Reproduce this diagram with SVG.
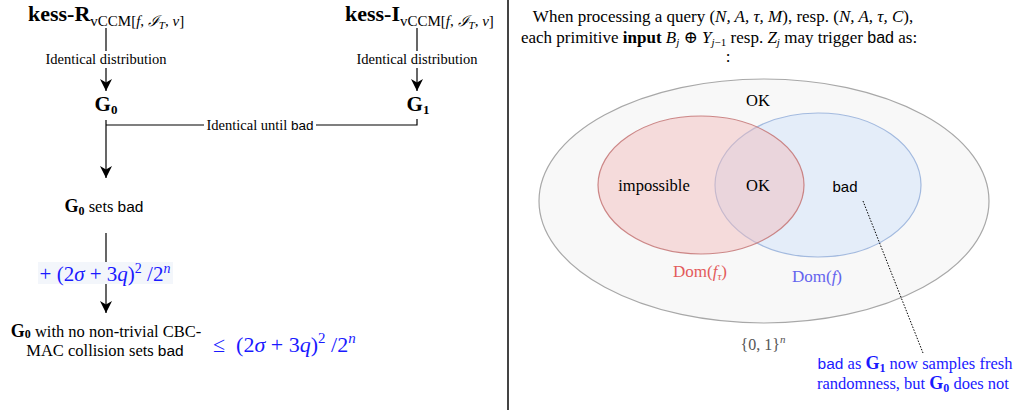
<svg xmlns="http://www.w3.org/2000/svg" width="1017" height="410" viewBox="0 0 1017 410">
<style>
.t{font-family:"Liberation Serif","DejaVu Serif",serif;fill:#000}
.s{font-family:"Liberation Sans","DejaVu Sans",sans-serif}
.i{font-style:italic}
.b{font-weight:bold}
.lbl{font-size:14.5px}
.ln{stroke:#000;stroke-width:1.2;fill:none}
.blue{fill:#1a1aff}
</style>
<defs>
<marker id="arr" markerUnits="userSpaceOnUse" markerWidth="13" markerHeight="13" refX="12" refY="6.5" orient="auto">
<path d="M0,0.5 L12,6.5 L0,12.5 L3.5,6.5 Z" fill="#000"/>
</marker>
</defs>
<rect width="1017" height="410" fill="#fff"/>

<g id="connectors">
<path class="ln" d="M106,28 V51"/>
<path class="ln" d="M106,68 V91" marker-end="url(#arr)"/>
<path class="ln" d="M417,28 V51"/>
<path class="ln" d="M417,68 V91" marker-end="url(#arr)"/>
<path class="ln" d="M106,120 V178" marker-end="url(#arr)"/>
<path class="ln" d="M106,125 H204"/>
<path class="ln" d="M316,125 H417 V119"/>
<path class="ln" d="M106,233 V262"/>
<path class="ln" d="M106,284 V313" marker-end="url(#arr)"/>
<text class="t lbl" x="106" y="64" text-anchor="middle">Identical distribution</text>
<text class="t lbl" x="417" y="64" text-anchor="middle">Identical distribution</text>
<text class="t lbl" x="260" y="130" text-anchor="middle">Identical until <tspan class="s" font-size="13.5">bad</tspan></text>
</g>

<g id="kessR">
<text class="t" x="28" y="21"><tspan class="b" font-size="22">kess-R</tspan><tspan font-size="15" dy="5">vCCM[</tspan><tspan font-size="15" class="i">f</tspan><tspan font-size="15">, </tspan><tspan font-size="15" class="i">ℐ</tspan><tspan font-size="11" class="i" dy="3">T</tspan><tspan font-size="15" dy="-3">, </tspan><tspan font-size="15" class="i">ν</tspan><tspan font-size="15">]</tspan></text>
</g>
<g id="kessI">
<text class="t" x="345" y="21"><tspan class="b" font-size="22">kess-I</tspan><tspan font-size="15" dy="5">vCCM[</tspan><tspan font-size="15" class="i">f</tspan><tspan font-size="15">, </tspan><tspan font-size="15" class="i">ℐ</tspan><tspan font-size="11" class="i" dy="3">T</tspan><tspan font-size="15" dy="-3">, </tspan><tspan font-size="15" class="i">ν</tspan><tspan font-size="15">]</tspan></text>
</g>
<g id="G0">
<text class="t b" x="106" y="111" text-anchor="middle"><tspan font-size="21">G</tspan><tspan font-size="13" dy="3">0</tspan></text>
</g>
<g id="G1">
<text class="t b" x="418" y="111" text-anchor="middle"><tspan font-size="21">G</tspan><tspan font-size="13" dy="3">1</tspan></text>
</g>
<g id="G0bad">
<text class="t" x="104" y="212" text-anchor="middle" font-size="16.5"><tspan class="b" font-size="18">G</tspan><tspan class="b" font-size="12" dy="3">0</tspan><tspan dy="-3"> sets </tspan><tspan class="s" font-size="15.5">bad</tspan></text>
</g>
<g id="increment">
<rect x="38" y="262" width="135" height="22" fill="#f3f6fb"/>
<text class="t blue" x="105" y="281" text-anchor="middle" font-size="21">+ (2<tspan class="i">σ</tspan> + 3<tspan class="i">q</tspan>)<tspan font-size="14" dy="-8">2</tspan><tspan dy="8"> /2</tspan><tspan class="i" font-size="14" dy="-8">n</tspan></text>
</g>
<g id="G0final">
<text class="t" x="106" y="337" text-anchor="middle" font-size="16.5"><tspan class="b" font-size="18">G</tspan><tspan class="b" font-size="12" dy="1">0</tspan><tspan dy="-1"> with no non-trivial CBC-</tspan></text>
<text class="t" x="105" y="356" text-anchor="middle" font-size="16.5">MAC collision sets <tspan class="s" font-size="15.5">bad</tspan></text>
</g>
<g id="bound">
<text class="t blue" x="213" y="352" font-size="22" xml:space="preserve">≤  (2<tspan class="i">σ</tspan> + 3<tspan class="i">q</tspan>)<tspan font-size="15" dy="-9">2</tspan><tspan dy="9"> /2</tspan><tspan class="i" font-size="15" dy="-9">n</tspan></text>
</g>

<line x1="508" y1="0" x2="508" y2="410" stroke="#444" stroke-width="2"/>

<g id="header">
<text class="t" x="723" y="22" text-anchor="middle" font-size="17">When processing a query (<tspan class="i">N, A, τ, M</tspan>), resp. (<tspan class="i">N, A, τ, C</tspan>),</text>
<text class="t" x="719" y="43" text-anchor="middle" font-size="17">each primitive <tspan class="b">input</tspan> <tspan class="i">B</tspan><tspan class="i" font-size="11" dy="3">j</tspan><tspan dy="-3"> ⊕ </tspan><tspan class="i">Y</tspan><tspan font-size="11" dy="3"><tspan class="i">j</tspan>−1</tspan><tspan dy="-3"> resp. </tspan><tspan class="i">Z</tspan><tspan class="i" font-size="11" dy="3">j</tspan><tspan dy="-3"> may trigger </tspan><tspan class="s" font-size="16">bad</tspan> as:</text>
<text class="t" x="728" y="62" text-anchor="middle" font-size="17">:</text>
</g>

<g id="universe">
<ellipse cx="764" cy="201" rx="225" ry="122" fill="#f8f8f8" stroke="#a8a8a8" stroke-width="1.2"/>
<text class="t" x="758" y="106" text-anchor="middle" font-size="16.5">OK</text>
<text class="t" x="763" y="350" text-anchor="middle" font-size="16" style="fill:#555">{0, 1}<tspan class="i" font-size="11" dy="-7">n</tspan></text>
</g>
<g id="domf">
<ellipse cx="818" cy="185" rx="103" ry="72" fill="#dee9f9" fill-opacity="0.75" stroke="#a3badf" stroke-width="1.2"/>
</g>
<g id="domftau">
<ellipse cx="701" cy="185" rx="103" ry="69" fill="#f2b8b8" fill-opacity="0.45" stroke="#c47474" stroke-opacity="0.85" stroke-width="1.2"/>
</g>
<g id="regions">
<text class="t" x="654" y="191" text-anchor="middle" font-size="16.5">impossible</text>
<text class="t" x="758" y="191" text-anchor="middle" font-size="16.5">OK</text>
<text class="s" x="845" y="192" text-anchor="middle" font-size="15">bad</text>
<text class="t" x="700" y="277" text-anchor="middle" font-size="17" style="fill:#e35b5b">Dom(<tspan class="i">f</tspan><tspan class="i" font-size="11" dy="3">τ</tspan><tspan dy="-3">)</tspan></text>
<text class="t" x="817" y="282" text-anchor="middle" font-size="17" style="fill:#6464ee">Dom(<tspan class="i">f</tspan>)</text>
</g>
<g id="note">
<line x1="863" y1="201" x2="923" y2="353" stroke="#000" stroke-width="1" stroke-dasharray="1.5,1.5"/>
<text class="t blue" x="915" y="369" text-anchor="middle" font-size="16.5"><tspan class="s" font-size="15.5">bad</tspan> as <tspan class="b" font-size="18">G</tspan><tspan class="b" font-size="12" dy="3">1</tspan><tspan dy="-3"> now samples fresh</tspan></text>
<text class="t blue" x="913" y="389" text-anchor="middle" font-size="16.5">randomness, but <tspan class="b" font-size="18">G</tspan><tspan class="b" font-size="12" dy="3">0</tspan><tspan dy="-3"> does not</tspan></text>
</g>
</svg>
